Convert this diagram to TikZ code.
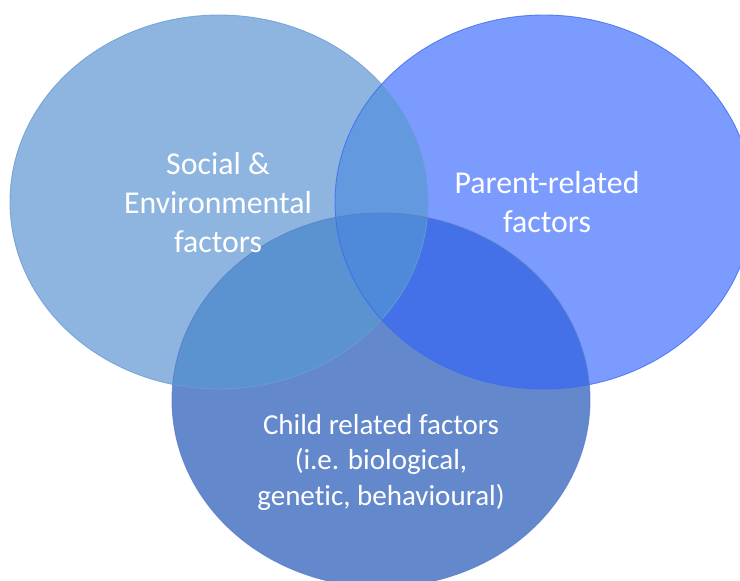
\documentclass[tikz,border=0pt]{standalone}
\usepackage{fontspec}
\setmainfont[Ligatures=NoCommon]{Carlito}
\definecolor{colL}{HTML}{8DB5E0}
\definecolor{colR}{HTML}{7B9CFE}
\definecolor{colB}{HTML}{6388CC}
\definecolor{colLR}{HTML}{6399DF}
\definecolor{colLB}{HTML}{5B93D0}
\definecolor{colRB}{HTML}{4470E8}
\definecolor{colLRB}{HTML}{4F89D9}
\definecolor{edgeL}{HTML}{6C9CD4}
\definecolor{edgeR}{HTML}{3F6CF0}
\definecolor{edgeB}{HTML}{5A80CC}
\begin{document}
\begin{tikzpicture}[x=1pt,y=-1pt,
  lbl/.style={text=white, align=center, inner sep=0pt},
  big/.style={font=\fontsize{31.8}{39}\selectfont},
  small/.style={font=\fontsize{29}{35.5}\selectfont},
  ell/.style={x radius=209, y radius=187},
  rim/.style={line width=0.9pt, draw opacity=0.8}]
\useasboundingbox (0,0) rectangle (740,581);
\clip (0,0) rectangle (740,581);
\coordinate (cl) at (219,202);
\coordinate (cr) at (544,202);
\coordinate (cb) at (381,400);
% single regions
\fill[colL] (cl) ellipse [ell];
\fill[colR] (cr) ellipse [ell];
\fill[colB] (cb) ellipse [ell];
% pairwise overlaps
\begin{scope}
  \clip (cl) ellipse [ell];
  \fill[colLR] (cr) ellipse [ell];
\end{scope}
\begin{scope}
  \clip (cl) ellipse [ell];
  \fill[colLB] (cb) ellipse [ell];
\end{scope}
\begin{scope}
  \clip (cr) ellipse [ell];
  \fill[colRB] (cb) ellipse [ell];
\end{scope}
% triple overlap
\begin{scope}
  \clip (cl) ellipse [ell];
  \clip (cr) ellipse [ell];
  \fill[colLRB] (cb) ellipse [ell];
\end{scope}
% outlines
\draw[rim, edgeL] (cl) ellipse [ell];
\draw[rim, edgeR] (cr) ellipse [ell];
\draw[rim, edgeB] (cb) ellipse [ell];
% labels
\node[lbl, big] (social) at (218,203) {Social \&\\Environmental\\factors};
\node[lbl, big] (parent) at (547,202) {Parent-related\\factors};
\node[lbl, small] (child) at (381,462) {Child related factors\\(i.e. biological,\\genetic, behavioural)};
\end{tikzpicture}
\end{document}
